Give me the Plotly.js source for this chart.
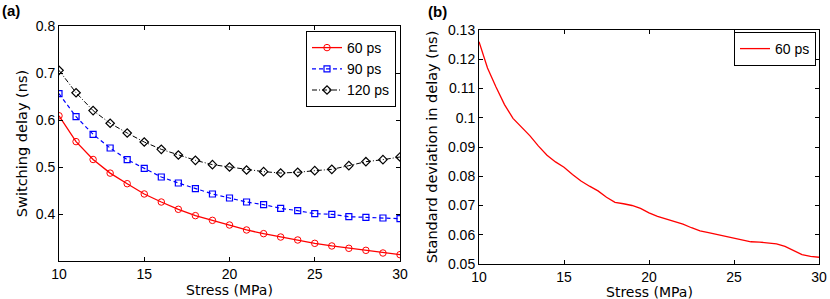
<!DOCTYPE html>
<html><head><meta charset="utf-8">
<script src="https://cdn.plot.ly/plotly-3.0.1.min.js"></script>
<style>html,body{margin:0;padding:0;background:#fff}#g{width:830px;height:299px}</style>
</head><body><div id="g"></div>
<script>
const stress = [10,11,12,13,14,15,16,17,18,19,20,21,22,23,24,25,26,27,28,29,30];
const delay60 = [0.609,0.554,0.516,0.487,0.4645,0.4426,0.4255,0.410,0.3965,0.3865,0.3766,0.366,0.3582,0.351,0.3447,0.3376,0.332,0.327,0.3227,0.317,0.3135];
const delay90 = [0.656,0.607,0.5695,0.5404,0.5156,0.4972,0.4787,0.466,0.4539,0.4426,0.434,0.4255,0.4199,0.412,0.4071,0.4007,0.3993,0.3943,0.3929,0.3915,0.390];
const delay120 = [0.7057,0.658,0.620,0.593,0.5723,0.5532,0.5376,0.5255,0.5142,0.505,0.500,0.4936,0.4901,0.4872,0.4887,0.4922,0.495,0.5028,0.5113,0.5156,0.5213];
const stressFine = [10,10.5,11,11.5,12,12.5,13,13.5,14,14.5,15,15.5,16,16.5,17,17.5,18,18.5,19,19.5,20,20.5,21,21.5,22,22.5,23,23.5,24,24.5,25,25.5,26,26.5,27,27.5,28,28.5,29,29.5,30];
const std60 = [0.1260,0.1170,0.1105,0.1045,0.0998,0.0967,0.0938,0.0903,0.0872,0.0849,0.0831,0.0806,0.0784,0.0766,0.0750,0.0728,0.0711,0.0706,0.0700,0.0690,0.0675,0.0663,0.0654,0.0645,0.0636,0.0624,0.0613,0.0607,0.0601,0.0596,0.0589,0.0582,0.0576,0.0575,0.0573,0.0569,0.0560,0.0545,0.0532,0.0526,0.0523];
const xTicks = [10,15,20,25,30];
const yTicksA = [0.4,0.5,0.6,0.7,0.8];
const yTickTextA = ['0.4','0.5','0.6','0.7','0.8'];
const yTicksB = [0.05,0.06,0.07,0.08,0.09,0.1,0.11,0.12,0.13];
const yTickTextB = ['0.05','0.06','0.07','0.08','0.09','0.1','0.11','0.12','0.13'];
const xTitle = 'Stress (MPa)';

const tickFont = {family:'Liberation Sans, Arial, sans-serif', size:14, color:'#000'};
const titleFont = {family:'DejaVu Sans, Verdana, sans-serif', size:14.5, color:'#000'};
const xTitleFont = {family:'DejaVu Sans, Verdana, sans-serif', size:14, color:'#000'};
function axisBase(){
  return {showgrid:false, zeroline:false, showline:true, linecolor:'#000', linewidth:1,
    mirror:'ticks', ticks:'inside', ticklen:4, tickcolor:'#000', tickwidth:1,
    tickfont:tickFont, fixedrange:true};
}
const traces = [
  {x:stress, y:delay60, name:'60 ps', type:'scatter', mode:'lines+markers',
   line:{color:'#ff0000', width:1.3}, marker:{symbol:'circle-open', size:6.5, color:'#ff0000', line:{width:1}},
   xaxis:'x', yaxis:'y', legend:'legend'},
  {x:stress, y:delay90, name:'90 ps', type:'scatter', mode:'lines+markers',
   line:{color:'#0000ff', width:1.2, dash:'4px,3px'}, marker:{symbol:'square-open', size:6, color:'#0000ff', line:{width:1.2}},
   xaxis:'x', yaxis:'y', legend:'legend'},
  {x:stress, y:delay120, name:'120 ps', type:'scatter', mode:'lines+markers',
   line:{color:'#000000', width:1, dash:'5px,2px,1px,2px'}, marker:{symbol:'diamond-open', size:6.5, color:'#000000', line:{width:1.2}},
   xaxis:'x', yaxis:'y', legend:'legend'},
  {x:stressFine, y:std60, name:'60 ps', type:'scatter', mode:'lines',
   line:{color:'#ff0000', width:1.3},
   xaxis:'x2', yaxis:'y2', legend:'legend2'}
];
const xa = Object.assign(axisBase(), {domain:[59/830, 400/830], range:[10,30], tickvals:xTicks, anchor:'y'});
const ya = Object.assign(axisBase(), {domain:[1-261/299, 1-26/299], range:[0.3,0.8], tickvals:yTicksA, ticktext:yTickTextA, anchor:'x',
  title:{text:'Switching delay (ns)', font:titleFont, standoff:4}});
const xb = Object.assign(axisBase(), {domain:[479/830, 819/830], range:[10,30], tickvals:xTicks, anchor:'y2'});
const yb = Object.assign(axisBase(), {domain:[1-264/299, 1-30/299], range:[0.05,0.13], tickvals:yTicksB, ticktext:yTickTextB, anchor:'x2',
  title:{text:'Standard deviation in delay (ns)', font:titleFont, standoff:6}});
const layout = {
  width:830, height:299, margin:{l:0,r:0,t:0,b:0}, paper_bgcolor:'#fff', plot_bgcolor:'#fff',
  showlegend:true,
  xaxis:xa, yaxis:ya, xaxis2:xb, yaxis2:yb,
  legend:{x:396/830, y:1-31/299, xanchor:'right', yanchor:'top', bgcolor:'#fff', bordercolor:'#000', borderwidth:1,
    font:{family:'Liberation Sans, Arial, sans-serif', size:14, color:'#000'}, tracegroupgap:0, itemwidth:30},
  legend2:{x:816/830, y:1-32/299, xanchor:'right', yanchor:'top', bgcolor:'#fff', bordercolor:'#000', borderwidth:1,
    font:{family:'Liberation Sans, Arial, sans-serif', size:14, color:'#000'}, itemwidth:30},
  annotations:[
    {text:'<b>(a)</b>', xref:'paper', yref:'paper', x:0, y:1, xanchor:'left', yanchor:'top', showarrow:false,
     font:{family:'Liberation Sans, Arial, sans-serif', size:15, color:'#000'}},
    {text:'<b>(b)</b>', xref:'paper', yref:'paper', x:426/830, y:1-1/299, xanchor:'left', yanchor:'top', showarrow:false,
     font:{family:'Liberation Sans, Arial, sans-serif', size:15, color:'#000'}},
    {text:xTitle, xref:'x domain', yref:'paper', x:0.5, y:1-290/299, xanchor:'center', yanchor:'middle', showarrow:false,
     borderpad:0, font:xTitleFont},
    {text:xTitle, xref:'x2 domain', yref:'paper', x:0.5, y:1-291.5/299, xanchor:'center', yanchor:'middle', showarrow:false,
     borderpad:0, font:xTitleFont}
  ]
};
Plotly.newPlot('g', traces, layout, {displayModeBar:false, staticPlot:true});
</script></body></html>
